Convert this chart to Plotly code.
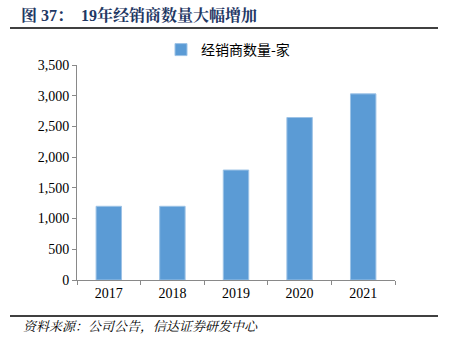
import plotly.graph_objects as go

years = ["2017", "2018", "2019", "2020", "2021"]
dealers = [1200, 1200, 1790, 2645, 3030]
series_name = "经销商数量-家"
title_text = "图 37：  19年经销商数量大幅增加"
source_text = "资料来源：公司公告，信达证券研发中心"
y_ticks = [0, 500, 1000, 1500, 2000, 2500, 3000, 3500]

W, H = 451, 345
L, R, T, B = 77, 56, 65, 65
pw, ph = W - L - R, H - T - B

def px(x):
    return (x - L) / pw

def py(y):
    return 1 - (y - T) / ph

font_main = "Liberation Serif, 'Noto Serif CJK SC', 'Noto Sans CJK SC', serif"

fig = go.Figure()
fig.add_trace(go.Bar(
    x=years, y=dealers, name=series_name,
    marker=dict(color="#5B9BD5", line=dict(color="#9DC3E6", width=1)),
    showlegend=True,
))

fig.update_layout(
    width=W, height=H,
    margin=dict(l=L, r=R, t=T, b=B),
    paper_bgcolor="white", plot_bgcolor="white",
    bargap=0.6,
    font=dict(family=font_main, size=13, color="#000000"),
    legend=dict(orientation="h", x=px(228), xanchor="center", y=py(50), yanchor="middle",
                font=dict(size=14, family="'Noto Sans CJK SC', sans-serif"),
                itemwidth=30, bgcolor="rgba(0,0,0,0)"),
    xaxis=dict(
        type="category", showline=True, linecolor="#898989", linewidth=1,
        ticks="outside", tickson="boundaries", ticklen=4, tickcolor="#898989",
        tickfont=dict(size=14, family=font_main), showgrid=False,
    ),
    yaxis=dict(
        range=[0, 3500], tickvals=y_ticks, tickformat=",d",
        showline=True, linecolor="#898989", linewidth=1,
        ticks="outside", ticklen=4, tickcolor="#898989",
        tickfont=dict(size=14, family=font_main), showgrid=False, zeroline=False,
    ),
    shapes=[
        dict(type="line", xref="paper", yref="paper", x0=px(10), x1=px(438),
             y0=py(28), y1=py(28), line=dict(color="#404040", width=2)),
        dict(type="line", xref="paper", yref="paper", x0=px(10), x1=px(438),
             y0=py(316), y1=py(316), line=dict(color="#404040", width=2)),
    ],
    annotations=[
        dict(text="<b>" + title_text + "</b>", xref="paper", yref="paper",
             x=px(19), y=py(15), xanchor="left", yanchor="middle", showarrow=False,
             font=dict(size=16, color="#1F3864", family=font_main)),
        dict(text="<i>" + source_text + "</i>", xref="paper", yref="paper",
             x=px(21), y=py(326), xanchor="left", yanchor="middle", showarrow=False,
             font=dict(size=13, color="#000000", family=font_main)),
    ],
)

fig.write_html("out.html")
